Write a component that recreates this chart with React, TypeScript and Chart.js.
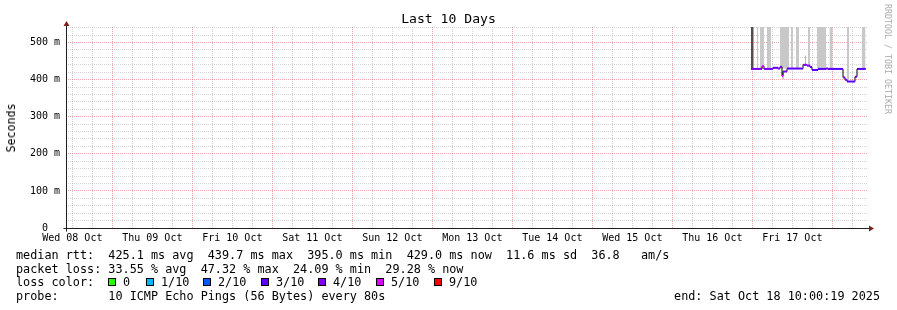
import React, { useEffect, useRef } from 'react';
import { Chart, registerables } from 'chart.js';

Chart.register(...registerables);

const MONO = '"DejaVu Sans Mono", monospace';

// ---- data (time in hours since Wed 08 Oct 2025 00:00, values in ms) ----
const viewStartHour = 10.1;
const viewEndHour = 250.7;
const dayLabels = [
  'Wed 08 Oct', 'Thu 09 Oct', 'Fri 10 Oct', 'Sat 11 Oct', 'Sun 12 Oct',
  'Mon 13 Oct', 'Tue 14 Oct', 'Wed 15 Oct', 'Thu 16 Oct', 'Fri 17 Oct',
];
const yMaxMs = 542;

const medianHour = [
  215.6, 218.9, 219.5, 222.2, 223.7, 224.3, 224.9, 225.2, 226.4, 231.2,
  232.4, 233.3, 233.9, 235.7, 238.1, 238.7, 243.2, 243.8, 244.4, 246.8, 247.4,
];
const medianMs = [
  429, 436, 429, 432, 430, 435, 410, 422, 430, 440,
  438, 434, 426, 429, 430, 429, 406, 400, 395, 408, 429,
];
const medianLoss = [
  4, 5, 4, 3, 4, 4, 5, 4, 3, 4,
  4, 3, 3, 3, 4, 3, 4, 4, 3, 4, 3,
];
const medianEndHour = 250.0;

const smokeFromHour = [215.6, 216.2, 217.4, 218.3, 220.4, 224.3, 224.9, 227.6, 229.1, 231.8, 232.7, 235.4, 239.15, 244.4, 248.9];
const smokeToHour = [216.2, 216.5, 217.8, 219.5, 221.6, 227.0, 225.5, 228.2, 230.0, 232.1, 233.3, 238.1, 240.1, 245.0, 249.95];
const smokeLowMs = [429, 429, 429, 429, 429, 430, 400, 430, 430, 440, 436, 429, 429, 398, 429];
const smokeHighMs = [600, 600, 600, 600, 600, 600, 424, 600, 600, 465, 600, 600, 600, 600, 600];
const smokeShade = ['#5a4a4a', '#a8a8a8', '#c8c8c8', '#c8c8c8', '#c8c8c8', '#c8c8c8', '#c8c8c8', '#c8c8c8', '#c8c8c8', '#b8b8b8', '#c8c8c8', '#c8c8c8', '#c8c8c8', '#c8c8c8', '#c8c8c8'];

const lossLabels = ['0', '1/10', '2/10', '3/10', '4/10', '5/10', '9/10'];
const lossCounts = [0, 1, 2, 3, 4, 5, 9];
const lossColors = ['#26ff00', '#00b8ff', '#0059ff', '#5e00ff', '#7e00ff', '#dd00ff', '#ff0000'];

const rttLine = 'median rtt:  425.1 ms avg  439.7 ms max  395.0 ms min  429.0 ms now  11.6 ms sd  36.8   am/s';
const lossLine = 'packet loss: 33.55 % avg  47.32 % max  24.09 % min  29.28 % now';
const probeLine = 'probe:       10 ICMP Echo Pings (56 Bytes) every 80s';
const endLine = 'end: Sat Oct 18 10:00:19 2025';
const titleText = 'Last 10 Days';
const yTitle = 'Seconds';
const watermark = 'RRDTOOL / TOBI OETIKER';

const legendBoxX = [108, 146, 203, 261, 318, 376, 434];

const MINOR = 'rgba(143,143,143,0.38)';
const MAJOR = 'rgba(230,80,80,0.5)';

function lossColor(n: number) {
  const i = lossCounts.indexOf(n);
  return lossColors[i >= 0 ? i : 0];
}

const axesPlugin = {
  id: 'rrdAxes',
  afterDatasetsDraw(chart: any) {
    const { ctx, chartArea } = chart;
    const x0 = Math.round(chartArea.left) + 0.5;
    const y0 = Math.round(chartArea.bottom) + 0.5;
    ctx.save();
    ctx.strokeStyle = '#202020';
    ctx.lineWidth = 1;
    ctx.beginPath();
    ctx.moveTo(x0 - 3, y0);
    ctx.lineTo(chartArea.right + 2, y0);
    ctx.moveTo(x0, y0 + 3);
    ctx.lineTo(x0, chartArea.top - 2);
    ctx.stroke();
    ctx.fillStyle = '#801f1f';
    ctx.beginPath();
    ctx.moveTo(x0 - 3, chartArea.top - 1);
    ctx.lineTo(x0 + 3, chartArea.top - 1);
    ctx.lineTo(x0, chartArea.top - 6);
    ctx.closePath();
    ctx.fill();
    ctx.beginPath();
    ctx.moveTo(chartArea.right + 1, y0 - 3);
    ctx.lineTo(chartArea.right + 1, y0 + 3);
    ctx.lineTo(chartArea.right + 6, y0);
    ctx.closePath();
    ctx.fill();
    ctx.restore();
  },
};

export default function App() {
  const ref = useRef<HTMLCanvasElement>(null);

  useEffect(() => {
    const canvas = ref.current;
    if (!canvas) return;

    const stepPts: any[] = medianHour.map((h, i) => ({ x: h, y: medianMs[i] }));
    stepPts.push({ x: medianEndHour, y: medianMs[medianMs.length - 1] });

    const segPts: any[] = [];
    const segCols: string[] = [];
    medianHour.forEach((h, i) => {
      const next = i + 1 < medianHour.length ? medianHour[i + 1] : medianEndHour;
      const c = lossColor(medianLoss[i]);
      segPts.push({ x: h, y: medianMs[i] }, { x: next, y: medianMs[i] }, { x: next, y: null });
      segCols.push(c, c, c);
    });

    const smokeSets = smokeFromHour.map((f, i) => ({
      data: [{ x: f, y: smokeHighMs[i] }, { x: smokeToHour[i], y: smokeHighMs[i] }],
      borderWidth: 0,
      borderColor: 'rgba(0,0,0,0)',
      pointRadius: 0,
      backgroundColor: smokeShade[i],
      fill: { value: smokeLowMs[i] },
      order: 3,
    }));

    const xTicks: number[] = [];
    for (let h = Math.ceil(viewStartHour / 6) * 6; h <= viewEndHour; h += 6) xTicks.push(h);
    const yTicks: number[] = [];
    for (let v = 0; v <= yMaxMs; v += 20) yTicks.push(v);

    const chart = new Chart(canvas, {
      type: 'line',
      data: {
        datasets: [
          {
            data: segPts,
            borderWidth: 2,
            pointRadius: 0,
            spanGaps: false,
            borderColor: segCols[0],
            borderCapStyle: 'butt',
            segment: { borderColor: (c: any) => segCols[c.p0DataIndex] },
            order: 0,
          } as any,
          {
            data: stepPts,
            stepped: true,
            borderWidth: 1,
            borderColor: '#000000',
            pointRadius: 0,
            order: 1,
          },
          ...smokeSets,
        ],
      },
      options: {
        animation: false,
        responsive: false,
        devicePixelRatio: 1,
        events: [],
        layout: { padding: { left: 0, top: 27, right: 29, bottom: 0 } },
        plugins: { legend: { display: false }, tooltip: { enabled: false }, title: { display: false } },
        scales: {
          x: {
            type: 'linear',
            min: viewStartHour,
            max: viewEndHour,
            afterBuildTicks: (s: any) => { s.ticks = xTicks.map((v) => ({ value: v })); },
            afterFit: (s: any) => { s.height = 82; },
            grid: {
              drawTicks: false,
              lineWidth: 1,
              color: (c: any) => (c.tick && c.tick.value % 24 === 0 ? MAJOR : MINOR),
            },
            border: { display: false, dash: [1, 1] },
            ticks: {
              autoSkip: false,
              maxRotation: 0,
              minRotation: 0,
              padding: 4,
              color: '#000',
              font: { family: MONO, size: 10 },
              callback: (v: any) => {
                const n = Number(v);
                return n % 24 === 12 ? dayLabels[(n - 12) / 24] || '' : '';
              },
            },
          },
          y: {
            type: 'linear',
            min: 0,
            max: yMaxMs,
            afterBuildTicks: (s: any) => { s.ticks = yTicks.map((v) => ({ value: v })); },
            afterFit: (s: any) => { s.width = 66; },
            grid: {
              drawTicks: false,
              lineWidth: 1,
              color: (c: any) => (c.tick && c.tick.value % 100 === 0 ? MAJOR : MINOR),
            },
            border: { display: false, dash: [1, 1] },
            ticks: {
              autoSkip: false,
              padding: 6,
              color: '#000',
              font: { family: MONO, size: 10 },
              callback: (v: any) => {
                const n = Number(v);
                if (n % 100 !== 0) return '';
                return n === 0 ? '0  ' : `${n} m`;
              },
            },
          },
        },
      },
      plugins: [axesPlugin],
    } as any);

    return () => chart.destroy();
  }, []);

  const rowStyle = (top: number): React.CSSProperties => ({
    position: 'absolute',
    left: 16,
    top,
    fontFamily: MONO,
    fontSize: '11.8px',
    lineHeight: '14px',
    whiteSpace: 'pre',
    color: '#000',
  });

  return (
    <div style={{ position: 'absolute', left: 0, top: 0, width: 897, height: 310, background: '#fff', overflow: 'hidden' }}>
      <canvas ref={ref} width={897} height={310} style={{ position: 'absolute', left: 0, top: 0 }} />
      <div style={{ position: 'absolute', left: 0, width: 897, top: 11, textAlign: 'center', fontFamily: MONO, fontSize: '13.1px', lineHeight: '16px', color: '#000' }}>
        {titleText}
      </div>
      <div style={{ position: 'absolute', left: 11, top: 127.5, transform: 'translate(-50%, -50%) rotate(-90deg)', fontFamily: MONO, fontSize: '11.6px', lineHeight: '14px', whiteSpace: 'pre', color: '#000' }}>
        {yTitle}
      </div>
      <div style={{ position: 'absolute', left: 888, top: 59, transform: 'translate(-50%, -50%) rotate(90deg)', fontFamily: MONO, fontSize: '8.3px', lineHeight: '10px', whiteSpace: 'pre', color: '#aaaaaa' }}>
        {watermark}
      </div>
      <div style={rowStyle(247.5)}>{rttLine}</div>
      <div style={rowStyle(261.5)}>{lossLine}</div>
      <div style={rowStyle(275)}>loss color:</div>
      {lossLabels.map((lbl, i) => (
        <div key={lbl} style={{ position: 'absolute', left: legendBoxX[i], top: 275, height: 14, fontFamily: MONO, fontSize: '11.8px', lineHeight: '14px', whiteSpace: 'pre', color: '#000' }}>
          <span style={{ position: 'absolute', left: 0, top: 3, width: 6, height: 6, background: lossColors[i], border: '1px solid #000' }} />
          <span style={{ position: 'absolute', left: 15, top: 0 }}>{lbl}</span>
        </div>
      ))}
      <div style={rowStyle(289)}>{probeLine}</div>
      <div style={{ position: 'absolute', right: 17, top: 289, fontFamily: MONO, fontSize: '11.8px', lineHeight: '14px', whiteSpace: 'pre', color: '#000' }}>
        {endLine}
      </div>
    </div>
  );
}
